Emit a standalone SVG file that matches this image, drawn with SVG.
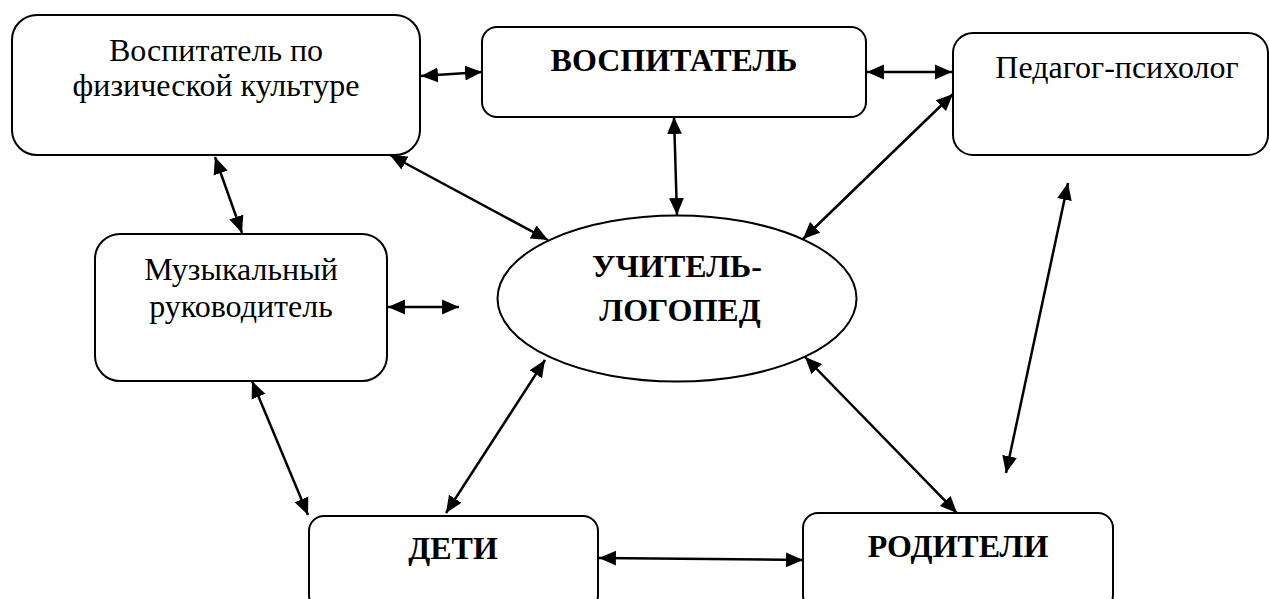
<svg xmlns="http://www.w3.org/2000/svg" width="1270" height="599" viewBox="0 0 1270 599">
<style>
.box{fill:#fff;stroke:#000;stroke-width:2}
.t{font-family:"Times New Roman","Liberation Serif",Tinos,"DejaVu Serif",serif;font-size:32px;fill:#000;text-anchor:middle}
.b{font-family:"Times New Roman","Liberation Serif",Tinos,"DejaVu Serif",serif;font-size:32px;font-weight:bold;fill:#000;text-anchor:middle}
.c{fill:none;stroke:#000;stroke-width:2.5;marker-start:url(#ah);marker-end:url(#ah)}
</style>
<defs>
<marker id="ah" markerUnits="userSpaceOnUse" markerWidth="18" markerHeight="16" refX="16" refY="7" orient="auto-start-reverse" viewBox="0 0 17 14">
<path d="M0,0 L16,7 L0,14 z" fill="#000"/>
</marker>
</defs>
<rect width="1270" height="599" fill="#fff"/>
<g id="n-fizo">
<rect class="box" x="12" y="15" width="408" height="140" rx="25"/>
<text class="t" x="216" y="61">Воспитатель по</text>
<text class="t" x="216" y="96">физической культуре</text>
</g>
<g id="n-vosp">
<rect class="box" x="482" y="27" width="384" height="90" rx="15"/>
<text class="b" x="674" y="71">ВОСПИТАТЕЛЬ</text>
</g>
<g id="n-psy">
<rect class="box" x="953" y="33" width="315" height="122" rx="20"/>
<text class="t" x="1117" y="78">Педагог-психолог</text>
</g>
<g id="n-muz">
<rect class="box" x="95" y="234" width="292" height="147" rx="25"/>
<text class="t" x="241" y="280">Музыкальный</text>
<text class="t" x="241" y="317">руководитель</text>
</g>
<g id="n-logo">
<ellipse class="box" cx="677" cy="298.5" rx="179.5" ry="83"/>
<text class="b" x="677" y="277">УЧИТЕЛЬ-</text>
<text class="b" x="680" y="321">ЛОГОПЕД</text>
</g>
<g id="n-deti">
<rect class="box" x="309" y="516" width="289" height="94" rx="15"/>
<text class="b" x="453" y="559">ДЕТИ</text>
</g>
<g id="n-rod">
<rect class="box" x="803" y="513" width="310" height="97" rx="15"/>
<text class="b" x="958" y="557">РОДИТЕЛИ</text>
</g>
<g id="connectors">
<path class="c" d="M421,76 L482,72"/>
<path class="c" d="M867,72 L952,72"/>
<path class="c" d="M674,117 L677,215"/>
<path class="c" d="M953,94 L803,239"/>
<path class="c" d="M390,155 L548,240"/>
<path class="c" d="M215,157 L242,233"/>
<path class="c" d="M388,307 L459,307"/>
<path class="c" d="M252,381 L308,515"/>
<path class="c" d="M545,360 L446,513"/>
<path class="c" d="M599,558 L803,560"/>
<path class="c" d="M805,357 L957,513"/>
<path class="c" d="M1068,183 L1006,473"/>
</g>
</svg>
